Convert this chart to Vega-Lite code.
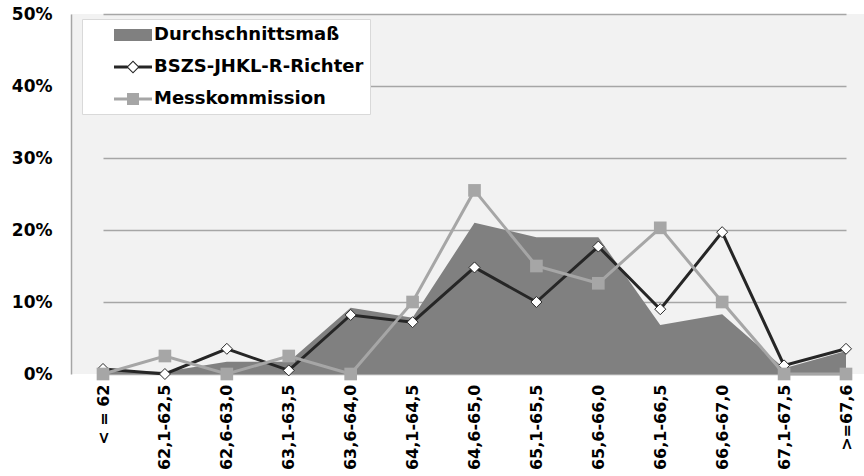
{
  "$schema": "https://vega.github.io/schema/vega-lite/v6.json",
  "width": 793,
  "height": 360,
  "autosize": "none",
  "padding": {"left": 71, "top": 14, "right": 0, "bottom": 102},
  "background": "white",
  "config": {
    "view": {"fill": "#f2f2f2", "stroke": null},
    "font": "DejaVu Sans"
  },
  "data": {
    "values": [
      {"k": "< = 62", "s": "Durchschnittsmaß", "v": 0.005},
      {"k": "62,1-62,5", "s": "Durchschnittsmaß", "v": 0.003},
      {"k": "62,6-63,0", "s": "Durchschnittsmaß", "v": 0.017},
      {"k": "63,1-63,5", "s": "Durchschnittsmaß", "v": 0.017},
      {"k": "63,6-64,0", "s": "Durchschnittsmaß", "v": 0.092},
      {"k": "64,1-64,5", "s": "Durchschnittsmaß", "v": 0.078},
      {"k": "64,6-65,0", "s": "Durchschnittsmaß", "v": 0.21},
      {"k": "65,1-65,5", "s": "Durchschnittsmaß", "v": 0.19},
      {"k": "65,6-66,0", "s": "Durchschnittsmaß", "v": 0.19},
      {"k": "66,1-66,5", "s": "Durchschnittsmaß", "v": 0.068},
      {"k": "66,6-67,0", "s": "Durchschnittsmaß", "v": 0.083},
      {"k": "67,1-67,5", "s": "Durchschnittsmaß", "v": 0.008},
      {"k": ">=67,6", "s": "Durchschnittsmaß", "v": 0.032},
      {"k": "< = 62", "s": "BSZS-JHKL-R-Richter", "v": 0.007},
      {"k": "62,1-62,5", "s": "BSZS-JHKL-R-Richter", "v": 0.0},
      {"k": "62,6-63,0", "s": "BSZS-JHKL-R-Richter", "v": 0.035},
      {"k": "63,1-63,5", "s": "BSZS-JHKL-R-Richter", "v": 0.005},
      {"k": "63,6-64,0", "s": "BSZS-JHKL-R-Richter", "v": 0.082},
      {"k": "64,1-64,5", "s": "BSZS-JHKL-R-Richter", "v": 0.072},
      {"k": "64,6-65,0", "s": "BSZS-JHKL-R-Richter", "v": 0.148},
      {"k": "65,1-65,5", "s": "BSZS-JHKL-R-Richter", "v": 0.10},
      {"k": "65,6-66,0", "s": "BSZS-JHKL-R-Richter", "v": 0.177},
      {"k": "66,1-66,5", "s": "BSZS-JHKL-R-Richter", "v": 0.09},
      {"k": "66,6-67,0", "s": "BSZS-JHKL-R-Richter", "v": 0.197},
      {"k": "67,1-67,5", "s": "BSZS-JHKL-R-Richter", "v": 0.012},
      {"k": ">=67,6", "s": "BSZS-JHKL-R-Richter", "v": 0.035},
      {"k": "< = 62", "s": "Messkommission", "v": 0.0},
      {"k": "62,1-62,5", "s": "Messkommission", "v": 0.025},
      {"k": "62,6-63,0", "s": "Messkommission", "v": 0.0},
      {"k": "63,1-63,5", "s": "Messkommission", "v": 0.025},
      {"k": "63,6-64,0", "s": "Messkommission", "v": 0.0},
      {"k": "64,1-64,5", "s": "Messkommission", "v": 0.10},
      {"k": "64,6-65,0", "s": "Messkommission", "v": 0.255},
      {"k": "65,1-65,5", "s": "Messkommission", "v": 0.15},
      {"k": "65,6-66,0", "s": "Messkommission", "v": 0.126},
      {"k": "66,1-66,5", "s": "Messkommission", "v": 0.203},
      {"k": "66,6-67,0", "s": "Messkommission", "v": 0.10},
      {"k": "67,1-67,5", "s": "Messkommission", "v": 0.0},
      {"k": ">=67,6", "s": "Messkommission", "v": 0.0}
    ]
  },
  "encoding": {
    "x": {
      "field": "k", "type": "ordinal", "sort": null,
      "scale": {"type": "point", "range": [32, 775], "padding": 0},
      "axis": {
        "title": null, "labelAngle": -90, "labelPadding": 10, "ticks": false, "domain": false,
        "labelFont": "DejaVu Sans", "labelFontSize": 16, "labelFontWeight": "bold",
        "labelColor": "black", "labelLimit": 200
      }
    },
    "y": {
      "field": "v", "type": "quantitative",
      "scale": {"domain": [0, 0.5]},
      "axis": {
        "title": null, "values": [0, 0.1, 0.2, 0.3, 0.4, 0.5], "format": ".0%",
        "grid": true, "gridColor": "#a6a6a6", "gridWidth": 1.5,
        "domain": true, "domainColor": "#a6a6a6", "domainWidth": 1.5, "ticks": false,
        "labelPadding": 19, "labelFont": "DejaVu Sans", "labelFontSize": 17,
        "labelFontWeight": "bold", "labelColor": "black"
      }
    },
    "color": {
      "field": "s", "type": "nominal",
      "scale": {
        "domain": ["Durchschnittsmaß", "BSZS-JHKL-R-Richter", "Messkommission"],
        "range": ["#808080", "#262626", "#a6a6a6"]
      },
      "legend": {
        "orient": "none", "legendX": 11, "legendY": 5, "title": null,
        "fillColor": "white", "strokeColor": "#d9d9d9", "padding": 6,
        "symbolSize": 400, "symbolOffset": 35, "labelOffset": 11, "rowPadding": 13,
        "labelFont": "DejaVu Sans", "labelFontSize": 18, "labelFontWeight": "bold",
        "labelColor": "black", "labelLimit": 500,
        "encode": {
          "legend": {
            "update": {
              "width": {"value": 316},
              "height": {"value": 85}
            }
          },
          "symbols": {
            "update": {
              "shape": {"signal": "datum.value === 'Durchschnittsmaß' ? 'M-1.9,-0.6H1.9V0.6H-1.9Z' : (datum.value === 'Messkommission' ? 'M-1.9,-0.15H1.9V0.15H-1.9ZM-0.6,-0.6H0.6V0.6H-0.6Z' : 'M-1.9,-0.15H-0.55V0.15H-1.9ZM0.55,-0.15H1.9V0.15H0.55ZM0,-0.65L0.65,0L0,0.65L-0.65,0ZM0,-0.5L-0.5,0L0,0.5L0.5,0Z')"},
              "fill": {"scale": "color", "field": "value"},
              "stroke": {"value": "transparent"},
              "strokeWidth": {"value": 0},
              "opacity": {"value": 1},
              "fillOpacity": {"value": 1}
            }
          }
        }
      }
    }
  },
  "layer": [
    {
      "transform": [{"filter": "datum.s === 'Durchschnittsmaß'"}],
      "mark": {"type": "area", "opacity": 1, "interpolate": "linear"}
    },
    {
      "transform": [{"filter": "datum.s === 'BSZS-JHKL-R-Richter'"}],
      "mark": {"type": "line", "strokeWidth": 3}
    },
    {
      "transform": [{"filter": "datum.s === 'BSZS-JHKL-R-Richter'"}],
      "mark": {"type": "point", "shape": "diamond", "filled": true, "fill": "white", "stroke": "#262626", "strokeWidth": 1, "size": 121, "opacity": 1}
    },
    {
      "transform": [{"filter": "datum.s === 'Messkommission'"}],
      "mark": {"type": "line", "strokeWidth": 3}
    },
    {
      "transform": [{"filter": "datum.s === 'Messkommission'"}],
      "mark": {"type": "point", "shape": "square", "filled": true, "size": 160, "opacity": 1}
    }
  ]
}
